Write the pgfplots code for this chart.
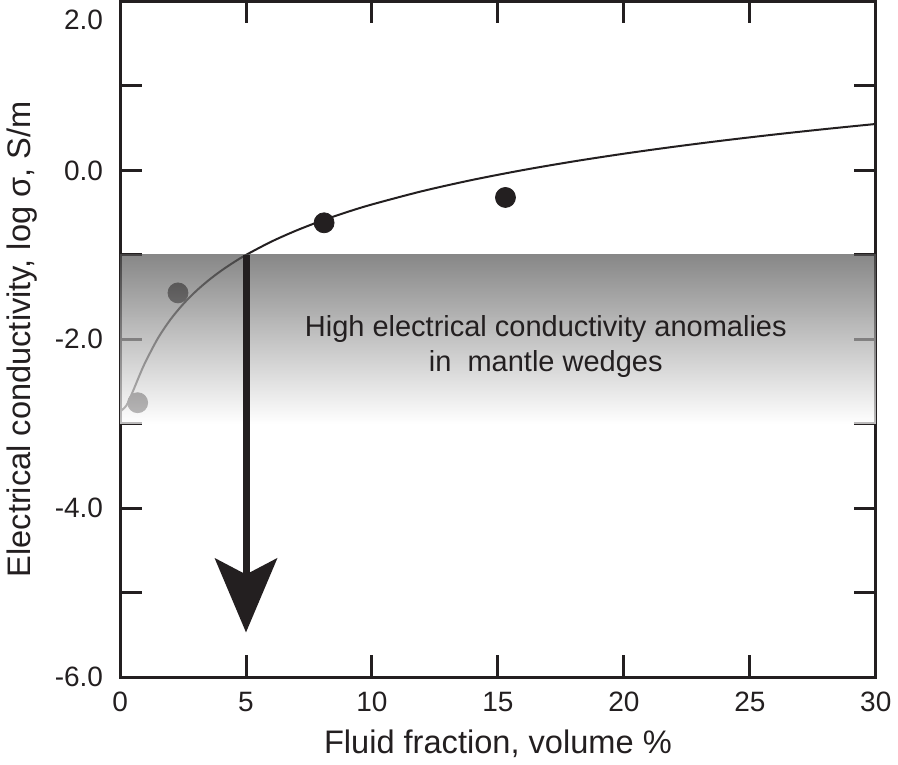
\documentclass[border=0pt]{standalone}
\usepackage{pgfplots}
\pgfplotsset{compat=1.18}
\usepackage{fontspec}
\setmainfont{Liberation Sans}
\usetikzlibrary{arrows.meta}
\definecolor{inkc}{HTML}{231F20}
\definecolor{bandtop}{HTML}{555555}
\begin{document}
\begin{tikzpicture}
\begin{axis}[
  scale only axis,
  width=378pt, height=338pt,
  xmin=0, xmax=30, ymin=-6, ymax=2,
  xtick={0,5,10,15,20,25,30},
  ytick={-6,-5,-4,-3,-2,-1,0,1,2},
  yticklabels={-6.0,,-4.0,,-2.0,,0.0,,\raisebox{-14pt}[0pt][0pt]{2.0}},
  /pgf/number format/assume math mode=true,
  tick align=inside,
  major tick length=11pt,
  tick style={line width=1.5pt, color=inkc},
  axis line style={line width=1.5pt, color=inkc},
  ticklabel style={font=\fontsize{14}{16}\selectfont, color=inkc},
  xticklabel style={yshift=-4pt},
  yticklabel style={xshift=-5pt, inner ysep=0pt},
  xlabel={Fluid fraction, volume \%},
  ylabel={Electrical conductivity, log σ,  S/m},
  label style={font=\fontsize{16.3}{19}\selectfont, color=inkc},
  xlabel style={yshift=-2pt},
  ylabel style={yshift=2pt},
  clip=false,
  clip marker paths=true,
]
\addplot[inkc, line width=1pt, smooth] coordinates {
(0,-2.854) (0.25,-2.784) (0.5,-2.6225) (0.75,-2.4418) (1,-2.2725)
(1.5,-1.9887) (2,-1.7655) (2.5,-1.5846) (3,-1.4334) (3.5,-1.304)
(4,-1.1908) (4.5,-1.0905) (5,-1.0004) (6,-0.8439) (7,-0.7112)
(8,-0.5959) (9,-0.4941) (10,-0.4029) (12,-0.2451) (14,-0.1114)
(16,0.0043) (18,0.1065) (20,0.1979) (22,0.2806) (24,0.3562)
(26,0.4257) (28,0.4900) (30,0.5499)};
\addplot[only marks, mark=*, mark size=5pt, color=inkc] coordinates {
(0.7,-2.75) (2.3,-1.45) (8.1,-0.62) (15.3,-0.32)};
\shade[top color=bandtop, bottom color=white, opacity=0.7]
  (axis cs:0,-3) rectangle (axis cs:30,-1);
\draw[inkc, line width=3.5pt, -{Stealth[length=37pt, width=31pt, inset=8pt]}]
  (axis cs:5,-1) -- (axis cs:5,-5.47);
\node[align=center, font=\fontsize{14.5}{17.5}\selectfont, color=inkc]
  at (axis cs:16.9,-2.08) {High electrical conductivity anomalies\\in\ \ mantle wedges};
\end{axis}
\end{tikzpicture}
\end{document}
